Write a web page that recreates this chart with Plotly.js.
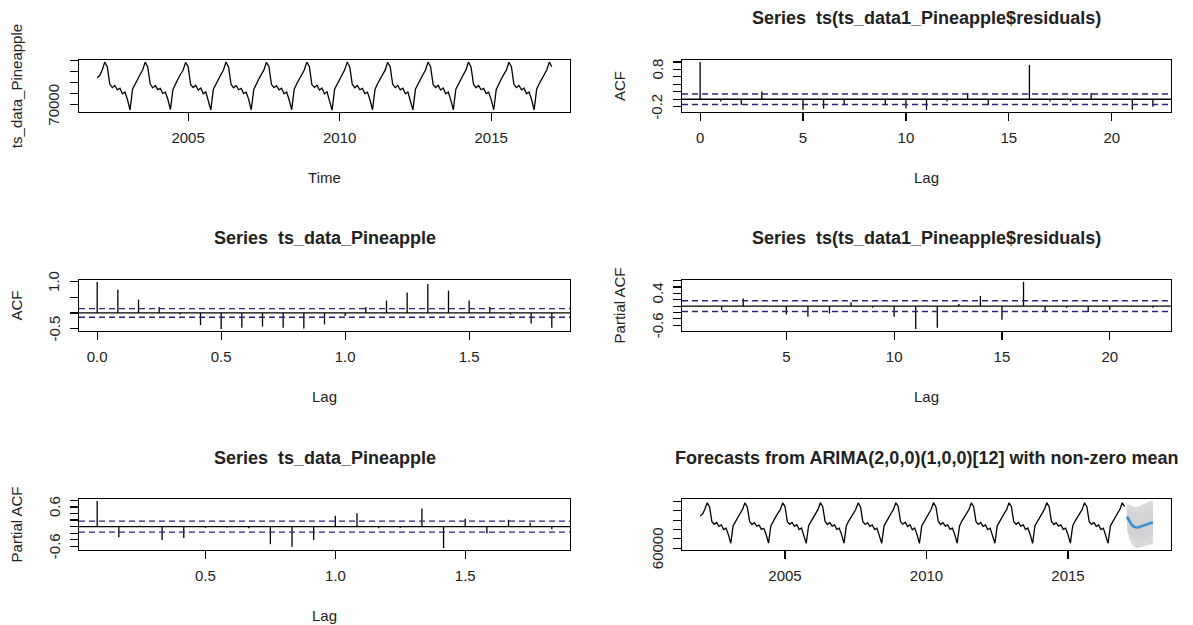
<!DOCTYPE html>
<html>
<head>
<meta charset="utf-8">
<script src="https://cdn.plot.ly/plotly-3.0.1.min.js"></script>
<style>
html,body{margin:0;padding:0;background:#ffffff;}
#chart{width:1193px;height:625px;}
</style>
</head>
<body>
<div id="chart"></div>
<script>
// ---------------- DATA ----------------
const seriesStart = 2002;      // first observation (Jan 2002)
const seriesFreq = 12;         // monthly
const pineapple = [
  94500, 96500, 101500, 108700,
  104500, 88500, 85500, 87500, 83500, 85000, 80000, 81500, 74500, 65300, 84000, 89000, 93500, 97500, 101500, 108700,
  104300, 88700, 85300, 87400, 83700, 84800, 80200, 81300, 74700, 65500, 83800, 89200, 93300, 97700, 101300, 108500,
  104600, 88400, 85600, 87600, 83400, 85100, 79900, 81600, 74400, 65200, 84100, 88900, 93600, 97400, 101600, 108800,
  104400, 88600, 85400, 87500, 83600, 84900, 80100, 81400, 74600, 65400, 83900, 89100, 93400, 97600, 101400, 108600,
  104500, 88500, 85500, 87300, 83500, 85000, 80000, 81500, 74500, 65300, 84000, 89000, 93500, 97500, 101500, 108700,
  104700, 88300, 85700, 87700, 83300, 85200, 79800, 81700, 74300, 65100, 84200, 88800, 93700, 97300, 101700, 108900,
  104300, 88600, 85400, 87400, 83600, 84900, 80100, 81400, 74600, 65400, 83900, 89100, 93400, 97600, 101400, 108600,
  104500, 88500, 85500, 87500, 83500, 85000, 80000, 81500, 74500, 65300, 84000, 89000, 93500, 97500, 101500, 108700,
  104600, 88400, 85600, 87600, 83400, 85100, 79900, 81600, 74400, 65200, 84100, 88900, 93600, 97400, 101600, 108800,
  104400, 88600, 85400, 87400, 83600, 84900, 80100, 81400, 74600, 65400, 83900, 89100, 93400, 97600, 101400, 108600,
  104500, 88500, 85500, 87500, 83500, 85000, 80000, 81500, 74500, 65300, 84000, 89000, 93500, 97500, 101500, 108700,
  104500
];

// ACF of ts_data_Pineapple (lags in months 0..22, plotted in years)
const acfTsLagMonths = [0,1,2,3,4,5,6,7,8,9,10,11,12,13,14,15,16,17,18,19,20,21,22];
const acfTs = [1.0, 0.75, 0.43, 0.19, -0.05, -0.39, -0.52, -0.48, -0.44, -0.48, -0.50, -0.37,
               -0.10, 0.19, 0.40, 0.66, 0.93, 0.72, 0.40, 0.19, -0.05, -0.34, -0.48];

// PACF of ts_data_Pineapple (lags 1..22 months)
const pacfTsLagMonths = [1,2,3,4,5,6,7,8,9,10,11,12,13,14,15,16,17,18,19,20,21,22];
const pacfTs = [0.79, -0.33, 0.03, -0.41, -0.35, -0.04, -0.03, -0.05, -0.54, -0.62, -0.41,
                0.33, 0.41, -0.05, -0.04, 0.56, -0.66, 0.24, -0.21, 0.21, 0.12, -0.08];

// ACF of residuals (lags 0..22)
const acfResLags = [0,1,2,3,4,5,6,7,8,9,10,11,12,13,14,15,16,17,18,19,20,21,22];
const acfRes = [1.0, -0.06, -0.15, 0.21, -0.01, -0.28, -0.25, -0.16, -0.02, -0.16, -0.25, -0.29,
                -0.06, 0.17, -0.16, 0.01, 0.92, -0.06, -0.06, 0.17, -0.01, -0.28, -0.20];

// PACF of residuals (lags 1..22)
const pacfResLags = [1,2,3,4,5,6,7,8,9,10,11,12,13,14,15,16,17,18,19,20,21,22];
const pacfRes = [-0.02, -0.13, 0.24, 0.01, -0.26, -0.33, -0.23, 0.12, -0.05, -0.33, -0.72,
                 -0.68, 0.07, 0.32, -0.43, 0.76, -0.18, -0.05, -0.18, -0.11, -0.03, -0.05];

// confidence bounds (dashed blue lines)
const ciAcf = 0.14;
const ciPacf = 0.17;

// Forecast: 12 months, Feb 2017 .. Jan 2018
const fcStart = 2017 + 1/12;
const fcMean = [93700, 88500, 85000, 83000, 82200, 82400, 83300, 84500, 85600, 86500, 87200, 87700];
const fcLo80 = [84540, 76400, 71600, 68940, 67810, 67820, 68520, 69590, 70620, 71460, 72160, 72660];
const fcHi80 = [102860, 100600, 98400, 97060, 96590, 96980, 98080, 99410, 100580, 101540, 102240, 102740];
const fcLo95 = [79700, 70000, 64500, 61500, 60200, 60100, 60700, 61700, 62700, 63500, 64200, 64700];
const fcHi95 = [107700, 107000, 105500, 104500, 104200, 104700, 105900, 107300, 108500, 109500, 110200, 110700];

// tick values and labels ('' = unlabelled tick, as in the original)
const tsTicks = [2005, 2010, 2015];
const tsYTicks = [70000, 80000, 90000, 100000, 110000];
const tsYText = ['70000', '', '', '', ''];
const fcYTicks = [60000, 70000, 80000, 90000, 100000, 110000];
const fcYText = ['60000', '', '', '', '', ''];
const acfResYTicks = [-0.2, 0, 0.2, 0.4, 0.6, 0.8, 1.0];
const acfResYText = ['-0.2', '', '', '', '', '0.8', ''];
const acfTsYTicks = [-0.5, 0, 0.5, 1.0];
const acfTsYText = ['-0.5', '', '', '1.0'];
const pacfResYTicks = [-0.6, -0.4, -0.2, 0, 0.2, 0.4, 0.6, 0.8];
const pacfResYText = ['-0.6', '', '', '', '', '0.4', '', ''];
const pacfTsYTicks = [-0.6, -0.4, -0.2, 0, 0.2, 0.4, 0.6, 0.8];
const pacfTsYText = ['-0.6', '', '', '', '', '', '0.6', ''];

const titleResid = 'Series  ts(ts_data1_Pineapple$residuals)';
const titleTs = 'Series  ts_data_Pineapple';
const titleFc = 'Forecasts from ARIMA(2,0,0)(1,0,0)[12] with non-zero mean';

// ---------------- HELPERS ----------------
const W = 1193, H = 625;
const FONT = 'Liberation Sans, Arial, sans-serif';
const TXT = '#222222';
const CI_COL = '#26267e';

function rRange(vals) {
  const lo = Math.min(...vals), hi = Math.max(...vals);
  const e = 0.04 * (hi - lo);
  return [lo - e, hi + e];
}
function times(start, n, freq) {
  const t = [];
  for (let i = 0; i < n; i++) t.push(start + i / freq);
  return t;
}
function spikes(xs, ys) {
  const X = [], Y = [];
  xs.forEach((x, i) => { X.push(x, x, null); Y.push(0, ys[i], null); });
  return {X, Y};
}

const colL = [79, 570], colR = [682, 1171];
const rows = [[60, 112], [280, 331], [499, 550]];
const dx = c => [c[0] / W, c[1] / W];
const dy = r => [1 - r[1] / H, 1 - r[0] / H];

const axBase = {
  showline: true, linecolor: '#000', linewidth: 1.2, mirror: true,
  ticks: 'outside', ticklen: 8, tickwidth: 1.2, tickcolor: '#000',
  showgrid: false, zeroline: false, fixedrange: true,
  tickfont: {family: FONT, size: 15, color: TXT}
};
function xax(domain, anchor, range, tickvals, ticktext, title) {
  return Object.assign({}, axBase, {
    domain, anchor, range, tickmode: 'array', tickvals,
    ticktext: ticktext || tickvals.map(String),
    ticklabelstandoff: 4,
    title: {text: title, font: {family: FONT, size: 15, color: TXT}, standoff: 27}
  });
}
function yax(domain, anchor, range, tickvals, title) {
  return Object.assign({}, axBase, {
    domain, anchor, range, tickmode: 'array', tickvals,
    showticklabels: false,
    title: {text: title, font: {family: FONT, size: 15, color: TXT}, standoff: 43}
  });
}

// ---------------- TRACES ----------------
const tsTime = times(seriesStart, pineapple.length, seriesFreq);
const fcTime = times(fcStart, fcMean.length, seriesFreq);
const traces = [];
const blackLine = {color: '#000', width: 1.3};

traces.push({type: 'scatter', mode: 'lines', x: tsTime, y: pineapple, line: blackLine, xaxis: 'x', yaxis: 'y', hoverinfo: 'skip'});

let s = spikes(acfResLags, acfRes);
traces.push({type: 'scatter', mode: 'lines', x: s.X, y: s.Y, line: blackLine, xaxis: 'x2', yaxis: 'y2', hoverinfo: 'skip'});

const acfTsLagYears = acfTsLagMonths.map(m => m / seriesFreq);
s = spikes(acfTsLagYears, acfTs);
traces.push({type: 'scatter', mode: 'lines', x: s.X, y: s.Y, line: blackLine, xaxis: 'x3', yaxis: 'y3', hoverinfo: 'skip'});

s = spikes(pacfResLags, pacfRes);
traces.push({type: 'scatter', mode: 'lines', x: s.X, y: s.Y, line: blackLine, xaxis: 'x4', yaxis: 'y4', hoverinfo: 'skip'});

const pacfTsLagYears = pacfTsLagMonths.map(m => m / seriesFreq);
s = spikes(pacfTsLagYears, pacfTs);
traces.push({type: 'scatter', mode: 'lines', x: s.X, y: s.Y, line: blackLine, xaxis: 'x5', yaxis: 'y5', hoverinfo: 'skip'});

const band = (lo, hi) => ({x: fcTime.concat(fcTime.slice().reverse()), y: hi.concat(lo.slice().reverse())});
let b95 = band(fcLo95, fcHi95), b80 = band(fcLo80, fcHi80);
traces.push({type: 'scatter', mode: 'lines', x: b95.x, y: b95.y, fill: 'toself', fillcolor: '#d9d9d9', line: {width: 0}, xaxis: 'x6', yaxis: 'y6', hoverinfo: 'skip'});
traces.push({type: 'scatter', mode: 'lines', x: b80.x, y: b80.y, fill: 'toself', fillcolor: '#d3d3d5', line: {width: 0}, xaxis: 'x6', yaxis: 'y6', hoverinfo: 'skip'});
traces.push({type: 'scatter', mode: 'lines', x: tsTime, y: pineapple, line: blackLine, xaxis: 'x6', yaxis: 'y6', hoverinfo: 'skip'});
traces.push({type: 'scatter', mode: 'lines', x: fcTime, y: fcMean, line: {color: '#3a8fd4', width: 2.6}, xaxis: 'x6', yaxis: 'y6', hoverinfo: 'skip'});

// ---------------- LAYOUT ----------------
const layout = {
  width: W, height: H, margin: {l: 0, r: 0, t: 0, b: 0},
  paper_bgcolor: '#fff', plot_bgcolor: '#fff', showlegend: false,
  font: {family: FONT, color: TXT},
  xaxis: xax(dx(colL), 'y', rRange(tsTime), tsTicks, null, 'Time'),
  yaxis: yax(dy(rows[0]), 'x', rRange(pineapple), tsYTicks, 'ts_data_Pineapple'),
  xaxis2: xax(dx(colR), 'y2', rRange(acfResLags), [0, 5, 10, 15, 20], null, 'Lag'),
  yaxis2: yax(dy(rows[0]), 'x2', rRange(acfRes.concat([ciAcf, -ciAcf])), acfResYTicks, 'ACF'),
  xaxis3: xax(dx(colL), 'y3', rRange(acfTsLagYears), [0, 0.5, 1.0, 1.5], ['0.0', '0.5', '1.0', '1.5'], 'Lag'),
  yaxis3: yax(dy(rows[1]), 'x3', rRange(acfTs.concat([ciAcf, -ciAcf])), acfTsYTicks, 'ACF'),
  xaxis4: xax(dx(colR), 'y4', rRange(pacfResLags), [5, 10, 15, 20], null, 'Lag'),
  yaxis4: yax(dy(rows[1]), 'x4', rRange(pacfRes.concat([ciPacf, -ciPacf])), pacfResYTicks, 'Partial ACF'),
  xaxis5: xax(dx(colL), 'y5', rRange(pacfTsLagYears), [0.5, 1.0, 1.5], ['0.5', '1.0', '1.5'], 'Lag'),
  yaxis5: yax(dy(rows[2]), 'x5', rRange(pacfTs.concat([ciPacf, -ciPacf])), pacfTsYTicks, 'Partial ACF'),
  xaxis6: xax(dx(colR), 'y6', rRange(tsTime.concat(fcTime)), tsTicks, null, ''),
  yaxis6: yax(dy(rows[2]), 'x6', rRange(pineapple.concat(fcLo95, fcHi95)), fcYTicks, ''),
  shapes: [],
  annotations: []
};

// zero lines and confidence bounds
const ciPanels = [['x2', 'y2', ciAcf], ['x3', 'y3', ciAcf], ['x4', 'y4', ciPacf], ['x5', 'y5', ciPacf]];
ciPanels.forEach(([xa, ya, ci]) => {
  layout.shapes.push({type: 'line', xref: xa + ' domain', yref: ya, x0: 0, x1: 1, y0: 0, y1: 0, line: {color: '#000', width: 1.3}});
  [ci, -ci].forEach(v => layout.shapes.push({type: 'line', xref: xa + ' domain', yref: ya, x0: 0, x1: 1, y0: v, y1: v, line: {color: CI_COL, width: 1.4, dash: '6px,4px'}}));
});

// vertical (R-style, las=0) y tick labels placed on the y scale
const yLabelSets = [
  ['x', 'y', tsYTicks, tsYText], ['x2', 'y2', acfResYTicks, acfResYText],
  ['x3', 'y3', acfTsYTicks, acfTsYText], ['x4', 'y4', pacfResYTicks, pacfResYText],
  ['x5', 'y5', pacfTsYTicks, pacfTsYText], ['x6', 'y6', fcYTicks, fcYText]
];
yLabelSets.forEach(([xa, ya, vals, texts]) => {
  vals.forEach((v, i) => {
    if (!texts[i]) return;
    layout.annotations.push({
      text: texts[i], xref: xa + ' domain', yref: ya, x: 0, y: v,
      xanchor: 'center', yanchor: 'middle', xshift: -25, textangle: -90,
      showarrow: false, font: {family: FONT, size: 15, color: TXT}
    });
  });
});

// panel titles
const titleY = [18, 238, 458];
const addTitle = (text, col, row) => layout.annotations.push({
  text, xref: 'paper', yref: 'paper', x: (col[0] + col[1]) / 2 / W, y: 1 - titleY[row] / H,
  xanchor: 'center', yanchor: 'middle', showarrow: false,
  font: {family: FONT, size: 18, color: TXT, weight: 'bold'}
});
addTitle(titleResid, colR, 0);
addTitle(titleTs, colL, 1);
addTitle(titleResid, colR, 1);
addTitle(titleTs, colL, 2);
addTitle(titleFc, colR, 2);

Plotly.newPlot('chart', traces, layout, {staticPlot: true, displayModeBar: false});
</script>
</body>
</html>
